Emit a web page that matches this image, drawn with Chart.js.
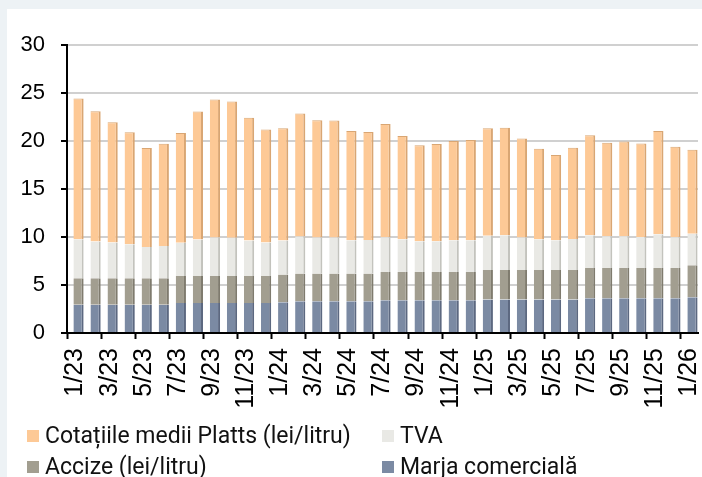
<!DOCTYPE html>
<html>
<head>
<meta charset="utf-8">
<script src="https://cdn.jsdelivr.net/npm/chart.js@4.4.1/dist/chart.umd.min.js"></script>
<style>
    html, body { margin: 0; padding: 0; }
    body {
        width: 702px; height: 477px; overflow: hidden;
        background: #edf2f5; position: relative;
        font-family: Roboto, "Liberation Sans", sans-serif;
    }
    #panel { position: absolute; left: 7px; top: 9px; width: 695px; height: 468px; background: #fff; }
    #chart-wrap { position: absolute; left: 0; top: 0; width: 695px; height: 412px; }
    #legend {
        position: absolute; left: 20px; top: 411px;
        display: grid; grid-template-columns: 355px auto;
        font-size: 23px; color: #111; line-height: 31px;
    }
    .item { display: flex; align-items: center; white-space: nowrap; }
    .swatch { width: 12px; height: 12px; margin-right: 6px; }
</style>
</head>
<body>
<div id="panel">
    <div id="chart-wrap"><canvas id="chart"></canvas></div>
    <div id="legend"></div>
</div>
<script>
// --- Data ---

const months = [
    "1/23", "2/23", "3/23", "4/23", "5/23", "6/23", "7/23", "8/23", "9/23", "10/23", "11/23", "12/23",
    "1/24", "2/24", "3/24", "4/24", "5/24", "6/24", "7/24", "8/24", "9/24", "10/24", "11/24", "12/24",
    "1/25", "2/25", "3/25", "4/25", "5/25", "6/25", "7/25", "8/25", "9/25", "10/25", "11/25", "12/25",
    "1/26"
];

// lei/litru
const marja = [
    2.95, 2.95, 2.95, 2.95, 2.95, 2.95, 3.12, 3.12, 3.12, 3.12, 3.12, 3.12,
    3.20, 3.30, 3.30, 3.30, 3.30, 3.30, 3.40, 3.40, 3.40, 3.40, 3.40, 3.40,
    3.50, 3.50, 3.50, 3.50, 3.50, 3.50, 3.62, 3.62, 3.62, 3.62, 3.62, 3.62,
    3.72
];

const accize = [
    2.75, 2.75, 2.75, 2.75, 2.75, 2.75, 2.81, 2.81, 2.81, 2.81, 2.81, 2.81,
    2.90, 2.90, 2.90, 2.90, 2.90, 2.90, 2.95, 2.95, 2.95, 2.95, 2.95, 2.95,
    3.06, 3.06, 3.06, 3.06, 3.06, 3.06, 3.15, 3.15, 3.15, 3.15, 3.15, 3.15,
    3.33
];

const tva = [
    4.07, 3.83, 3.72, 3.55, 3.27, 3.37, 3.46, 3.81, 4.02, 3.98, 3.70, 3.49,
    3.53, 3.85, 3.75, 3.75, 3.46, 3.50, 3.63, 3.42, 3.21, 3.21, 3.31, 3.31,
    3.56, 3.63, 3.39, 3.21, 3.10, 3.24, 3.42, 3.31, 3.31, 3.24, 3.52, 3.21,
    3.28
];

const platts = [
    14.66, 13.57, 12.53, 11.65, 10.30, 10.65, 11.45, 13.33, 14.38, 14.21, 12.78, 11.77,
    11.70, 12.81, 12.21, 12.18, 11.39, 11.24, 11.80, 10.76, 9.99, 10.13, 10.34, 10.45,
    11.21, 11.18, 10.30, 9.43, 8.88, 9.50, 10.40, 9.75, 9.88, 9.74, 10.76, 9.43,
    8.77
];

const yTicks = [0, 5, 10, 15, 20, 25, 30];

// --- Chart ---

const barStyle = (fill, side, top = 0) => ({
    backgroundColor: fill,
    borderColor: side,
    borderWidth: { top: top, right: 2, bottom: 0, left: 0 },
    borderSkipped: false,
    categoryPercentage: 1.0,
    barPercentage: 0.6
});

// stacking order bottom -> top
const datasets = [
    { label: "Marja comercială",                    data: marja,  ...barStyle("#7b8aa3", "#5c6880") },
    { label: "Accize (lei/litru)",                  data: accize, ...barStyle("#a29e90", "#7f7b6e") },
    { label: "TVA",                                 data: tva,    ...barStyle("#e9e9e5", "#c3c3bd") },
    { label: "Cotațiile medii Platts (lei/litru)",  data: platts, ...barStyle("#fdc996", "#d9a673", 1) }
];

// the original bars sit a little right of the category centre (3D depth)
const depthShift = {
    id: "depthShift",
    beforeDatasetsDraw(chart) { chart.ctx.save(); chart.ctx.translate(3, 0); },
    afterDatasetsDraw(chart)  { chart.ctx.restore(); }
};

const ctx = document.getElementById("chart").getContext("2d");

const chart = new Chart(ctx, {
    type: "bar",
    data: { labels: months, datasets: datasets },
    plugins: [depthShift],
    options: {
        responsive: true,
        maintainAspectRatio: false,
        animation: false,
        layout: { padding: { top: 36, right: 4, bottom: 0, left: 0 } },
        plugins: { legend: { display: false }, tooltip: { enabled: false } },
        scales: {
            x: {
                stacked: true,
                offset: true,
                afterFit: s => { s.height = 88; s.paddingLeft = 0; s.paddingRight = 0; },
                border: { display: true, color: "#000", width: 2 },
                grid: {
                    offset: true,
                    drawOnChartArea: false,
                    drawTicks: true,
                    tickLength: 6,
                    tickWidth: 2,
                    tickColor: c => (c.index % 2 === 0 ? "#000" : "rgba(0,0,0,0)")
                },
                ticks: {
                    autoSkip: false,
                    minRotation: 90,
                    maxRotation: 90,
                    padding: 9,
                    color: "#000",
                    font: { family: "Liberation Sans", size: 25 },
                    callback: (v, i) => (i % 2 === 0 ? months[i] : "")
                }
            },
            y: {
                stacked: true,
                min: 0,
                max: 30,
                afterFit: s => { s.width = 60; },
                afterBuildTicks: s => { s.ticks = yTicks.map(v => ({ value: v })); },
                border: { display: true, color: "#000", width: 2 },
                grid: {
                    color: "#d0d0d0",
                    lineWidth: 2,
                    tickLength: 6,
                    tickColor: "#000",
                    tickWidth: 2
                },
                ticks: {
                    padding: 16,
                    color: "#000",
                    font: { family: "Liberation Sans", size: 22 }
                }
            }
        }
    }
});

// --- Legend (two columns, top of stack first) ---

const legend = document.getElementById("legend");
[...datasets].reverse().forEach(ds => {
    const item = document.createElement("div");
    item.className = "item";
    const sw = document.createElement("span");
    sw.className = "swatch";
    sw.style.background = ds.backgroundColor;
    item.appendChild(sw);
    item.appendChild(document.createTextNode(ds.label));
    legend.appendChild(item);
});
</script>
</body>
</html>
